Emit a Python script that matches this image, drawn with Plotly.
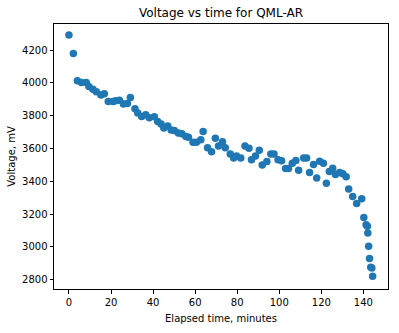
import plotly.graph_objects as go

elapsed_min = [0, 2.1, 4.0, 5.9, 8.2, 9.5, 11.4, 13.0, 15.2, 16.8, 18.7, 21.0, 22.2, 24.0,
               25.9, 27.8, 29.2, 31.4, 32.7, 34.6, 36.5, 38.2, 40.6, 42.2, 43.8, 45.1, 47.0,
               48.6, 50.1, 52.0, 53.7, 55.6, 56.8, 59.0, 60.6, 62.7, 63.8, 65.9, 67.8, 69.6,
               71.1, 73.0, 74.3, 76.7, 78.3, 79.7, 81.7, 83.7, 85.6, 86.8, 88.7, 90.5, 91.9,
               94.1, 96.0, 97.5, 99.4, 101.1, 103.0, 104.4, 106.2, 107.9, 109.2, 111.6, 113.0,
               114.4, 116.3, 117.8, 119.2, 121.0, 122.4, 123.8, 125.4, 126.7, 128.7, 130.2,
               131.8, 133.0, 134.9, 136.8, 139.2, 140.2, 141.3, 141.9, 142.1, 142.5, 142.9,
               143.5, 144.0, 144.4]
voltage_mv = [4292, 4179, 4013, 4003, 4003, 3978, 3961, 3946, 3926, 3934, 3887, 3887, 3891, 3895,
              3871, 3875, 3911, 3843, 3816, 3796, 3806, 3788, 3794, 3765, 3749, 3725, 3737,
              3713, 3710, 3694, 3690, 3673, 3669, 3638, 3638, 3653, 3704, 3605, 3581, 3662,
              3615, 3642, 3605, 3566, 3543, 3555, 3543, 3615, 3602, 3531, 3555, 3590, 3500,
              3521, 3567, 3567, 3531, 3525, 3478, 3478, 3511, 3527, 3468, 3543, 3543,
              3454, 3502, 3420, 3523, 3510, 3389, 3460, 3480, 3442, 3454, 3446,
              3428, 3353, 3308, 3265, 3294, 3180, 3135, 3127, 3085, 3005, 2930,
              2876, 2872, 2822]

x_ticks = [0, 20, 40, 60, 80, 100, 120, 140]
y_ticks = [2800, 3000, 3200, 3400, 3600, 3800, 4000, 4200]

fig = go.Figure(go.Scatter(
    x=elapsed_min, y=voltage_mv, mode="markers",
    marker=dict(color="#1f77b4", size=7.5, line=dict(width=0)),
))

axis_common = dict(
    showline=True, linecolor="black", linewidth=1, mirror=True,
    ticks="outside", ticklen=3.5, tickwidth=1, tickcolor="black",
    showgrid=False, zeroline=False,
    tickfont=dict(family="DejaVu Sans", size=10, color="black"),
)

fig.update_layout(
    width=399, height=333,
    margin=dict(l=54, r=10, t=24, b=37),
    paper_bgcolor="white", plot_bgcolor="white",
    showlegend=False,
    title=dict(text="Voltage vs time for QML-AR", x=0.5, xanchor="center",
               xref="paper", y=1 - 12.5 / 333, yanchor="middle",
               font=dict(family="DejaVu Sans", size=12, color="black")),
    xaxis=dict(range=[-7.1, 151.7], tickvals=x_ticks,
               title=dict(text="Elapsed time, minutes", standoff=8,
                          font=dict(family="DejaVu Sans", size=10, color="black")),
               **axis_common),
    yaxis=dict(range=[2744, 4359], tickvals=y_ticks,
               title=dict(text="Voltage, mV", standoff=4,
                          font=dict(family="DejaVu Sans", size=10, color="black")),
               **axis_common),
)

fig.write_html("out.html")
